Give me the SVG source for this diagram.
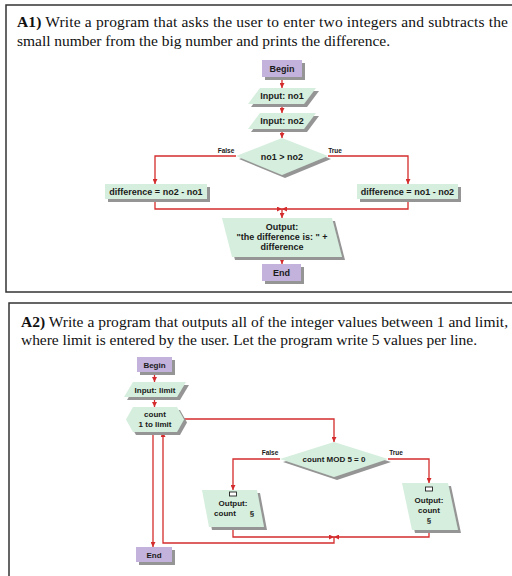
<svg xmlns="http://www.w3.org/2000/svg" width="512" height="576" viewBox="0 0 512 576">
<style>
.title{font-family:"Liberation Serif","Times New Roman",serif;font-size:15.5px;fill:#111}
.b{font-weight:bold}
.t9{font-family:"Liberation Sans",Arial,sans-serif;font-size:9px;font-weight:bold;fill:#1a1a1a;text-anchor:middle}
.t8{font-family:"Liberation Sans",Arial,sans-serif;font-size:8px;font-weight:bold;fill:#1a1a1a;text-anchor:middle}
.lbl{font-family:"Liberation Sans",Arial,sans-serif;font-size:6.5px;font-weight:bold;fill:#1a1a1a;text-anchor:middle}
.term{fill:#c3b2db;filter:url(#sh)}
.proc{fill:#d5eedd;filter:url(#sh)}
.frame{fill:#fff;stroke:#333;stroke-width:1.5}
.ln{fill:none;stroke:#d42c2c;stroke-width:1.3;marker-end:url(#ah)}
.icon{fill:#fff;stroke:#222;stroke-width:0.9}
</style>
<defs>
<filter id="sh" x="-20%" y="-20%" width="140%" height="160%">
<feFlood flood-color="#959595" result="c"/>
<feComposite in="c" in2="SourceAlpha" operator="in" result="s"/>
<feOffset in="s" dx="3" dy="3" result="o"/>
<feMerge><feMergeNode in="o"/><feMergeNode in="SourceGraphic"/></feMerge>
</filter>
<marker id="ah" viewBox="0 0 6 6" refX="6" refY="3" markerWidth="5" markerHeight="5" markerUnits="userSpaceOnUse" orient="auto">
<path d="M0,0 L6,3 L0,6 z" fill="#d42c2c"/>
</marker>
</defs>
<rect width="512" height="576" fill="#fff"/>
<rect class="frame" x="6" y="5" width="520" height="287"/>
<rect class="frame" x="9" y="303" width="520" height="290"/>
<text class="title" x="17" y="27" textLength="491"><tspan class="b">A1)</tspan> Write a program that asks the user to enter two integers and subtracts the</text>
<text class="title" x="17" y="46" textLength="373">small number from the big number and prints the difference.</text>
<text class="title" x="21" y="327" textLength="487"><tspan class="b">A2)</tspan> Write a program that outputs all of the integer values between 1 and limit,</text>
<text class="title" x="21" y="345" textLength="456">where limit is entered by the user. Let the program write 5 values per line.</text>
<g id="connectors">
<path class="ln" d="M282,77 V88"/>
<path class="ln" d="M282,104 V113"/>
<path class="ln" d="M282,129 V138"/>
<path class="ln" d="M236,156 H155 V184"/>
<path class="ln" d="M328,156 H408 V184"/>
<path class="ln" d="M155,199 V209 H282"/>
<path class="ln" d="M408,199 V209 H282"/>
<path class="ln" d="M282,209 V218"/>
<path class="ln" d="M282,257 V264"/>
<path class="ln" d="M154.5,372 V382"/>
<path class="ln" d="M154.5,397 V407"/>
<path class="ln" d="M184,419 H334 V442"/>
<path class="ln" d="M280,459 H233 V490"/>
<path class="ln" d="M388,459 H429 V483"/>
<path class="ln" d="M233,527 V537 H334"/>
<path class="ln" d="M429,530 V537 H334"/>
<path class="ln" d="M334,537 V543 H163 V432"/>
<path class="ln" d="M153,432 V547"/>
</g>
<g id="begin1"><rect class="term" x="262" y="60" width="40" height="17"/><text class="t9" x="282" y="71.8">Begin</text></g>
<g id="input1"><polygon class="proc" points="260,88 316,88 304,104 248,104"/><text class="t9" x="282" y="99.2">Input: no1</text></g>
<g id="input2"><polygon class="proc" points="260,113 316,113 304,129 248,129"/><text class="t9" x="282" y="124.2">Input: no2</text></g>
<g id="decision1"><polygon class="proc" points="282,138 328,156 282,175 236,156"/><text class="t9" x="282" y="159.5">no1 &gt; no2</text><text class="lbl" x="226" y="153">False</text><text class="lbl" x="335" y="153">True</text></g>
<g id="diffLeft"><rect class="proc" x="105" y="184" width="102" height="15"/><text class="t9" x="156" y="194.7">difference = no2 - no1</text></g>
<g id="diffRight"><rect class="proc" x="357" y="184" width="101" height="15"/><text class="t9" x="407.5" y="194.7">difference = no1 - no2</text></g>
<g id="output1"><polygon class="proc" points="222,218 332,218 342,257 232,257"/><text class="t9" x="282" y="230.2">Output:</text><text class="t9" x="282" y="240.2">"the difference is: " +</text><text class="t9" x="282" y="250.2">difference</text></g>
<g id="end1"><rect class="term" x="262" y="264" width="39" height="17"/><text class="t9" x="281.5" y="275.8">End</text></g>
<g id="begin2"><rect class="term" x="137" y="357" width="35" height="15"/><text class="t8" x="154.5" y="367.5">Begin</text></g>
<g id="inputLimit"><polygon class="proc" points="133,382 186,382 177,397 124,397"/><text class="t8" x="155" y="392.5">Input: limit</text></g>
<g id="loop"><polygon class="proc" points="126,419.5 133,407 177,407 184,419.5 177,432 133,432"/><text class="t8" x="155" y="417">count</text><text class="t8" x="155" y="427">1 to limit</text></g>
<g id="decision2"><polygon class="proc" points="334,442 388,459 334,477 280,459"/><text class="t8" x="334" y="462">count MOD 5 = 0</text><text class="lbl" x="270" y="455">False</text><text class="lbl" x="396" y="455">True</text></g>
<g id="outputFalse"><polygon class="proc" points="202,490 257,490 264,527 209,527"/><rect class="icon" x="229.5" y="492" width="7" height="4"/><text class="t8" x="233" y="506">Output:</text><text class="t8" x="225" y="516">count</text><text class="t8" x="252" y="516">§</text></g>
<g id="outputTrue"><polygon class="proc" points="402,483 448,483 458,530 412,530"/><rect class="icon" x="425.5" y="487" width="7" height="4"/><text class="t8" x="429" y="503">Output:</text><text class="t8" x="429" y="513">count</text><text class="t8" x="429" y="523">§</text></g>
<g id="end2"><rect class="term" x="136" y="547" width="36" height="15"/><text class="t8" x="154" y="557.5">End</text></g>
</svg>
